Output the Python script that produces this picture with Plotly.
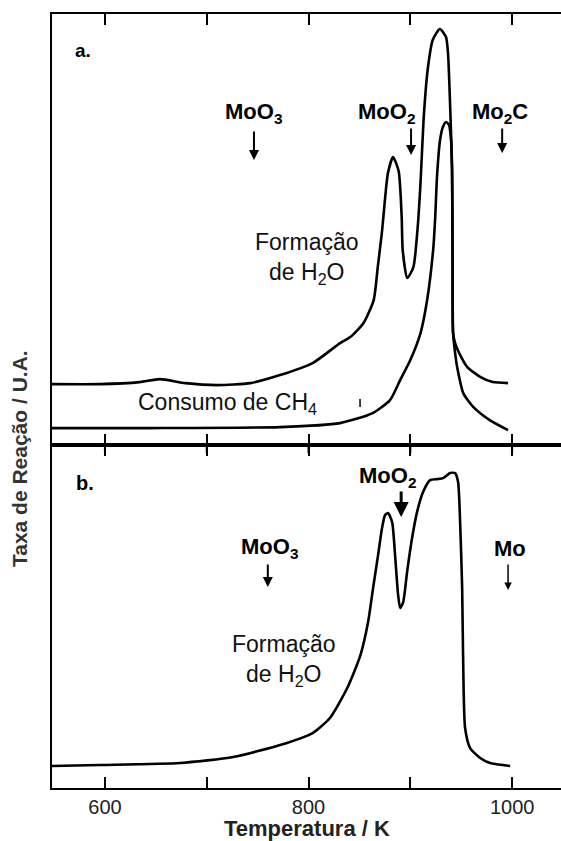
import plotly.graph_objects as go

# ---------------- data ----------------
# Panel a: H2O formation rate (arbitrary units) vs temperature (K)
t_h2o_a = [548.0, 595.0, 634.0, 654.0, 679.0, 710.0, 743.0, 772.0, 804.0, 831.0,
           841.0, 854.0, 864.0, 868.0, 872.0, 873.5, 878.0, 883.0, 888.5, 891.5,
           892.5, 897.0, 903.0, 907.0, 910.0, 913.0, 917.0, 922.0, 929.0, 935.0,
           937.0, 939.0, 941.0, 941.5, 942.0, 944.0, 950.0, 956.0, 969.0, 981.0, 996.0]
r_h2o_a = [61, 61, 63, 66, 62, 60, 62, 70, 82, 102,
           108, 122, 145, 178, 212, 228, 272, 288, 274, 228,
           195, 167, 178, 215, 262, 325, 375, 405, 416, 408,
           392, 342, 275, 185, 112, 102, 88, 78, 68, 63, 62]

# Panel a: CH4 consumption rate
t_ch4_a = [548.0, 644.0, 772.0, 831.0, 863.0, 880.0, 890.0, 900.0, 910.0, 916.5,
           922.4, 924.3, 926.3, 929.2, 932.0, 935.1, 938.0, 940.0, 941.0, 941.5,
           942.0, 944.0, 946.0, 952.0, 962.0, 978.0, 996.0]
r_ch4_a = [17, 17, 18, 22, 32, 45, 65, 85, 112, 145,
           195, 225, 270, 305, 318, 323, 320, 305, 275, 185,
           112, 92, 78, 52, 38, 25, 15]

# Panel b: H2O formation rate
t_h2o_b = [548.0, 595.0, 674.0, 726.0, 772.0, 804.0, 821.0, 838.0, 851.0, 858.5,
           863.4, 868.3, 872.2, 875.2, 878.1, 882.1, 885.0, 888.0, 890.0, 893.0,
           896.8, 901.7, 906.6, 912.5, 919.4, 926.3, 932.2, 939.1, 944.0, 946.9,
           948.9, 950.9, 951.8, 953.8, 958.7, 968.6, 978.4, 998.0]
r_h2o_b = [22, 23, 25, 31, 43, 55, 70, 100, 133, 166,
           200, 233, 260, 273, 275, 266, 233, 193, 180, 186,
           216, 250, 276, 296, 308, 309, 310, 315, 315, 306,
           266, 200, 133, 60, 40, 30, 25, 22]

tick_vals = [600, 700, 800, 900, 1000]
tick_text = ["600", "", "800", "", "1000"]

x_range = [548, 1048]
range_a = [0, 431]
range_b = [0, 343]

FONT = "Arial, Liberation Sans, sans-serif"
LINE = dict(color="black", width=2.6)

fig = go.Figure()
fig.add_trace(go.Scatter(x=t_h2o_a, y=r_h2o_a, mode="lines", line=dict(**LINE, shape="spline", smoothing=0.6),
                         xaxis="x", yaxis="y", name="Formação de H2O (a)"))
fig.add_trace(go.Scatter(x=t_ch4_a, y=r_ch4_a, mode="lines", line=dict(**LINE, shape="spline", smoothing=0.6),
                         xaxis="x", yaxis="y", name="Consumo de CH4"))
fig.add_trace(go.Scatter(x=t_h2o_b, y=r_h2o_b, mode="lines", line=dict(**LINE, shape="spline", smoothing=0.6),
                         xaxis="x2", yaxis="y2", name="Formação de H2O (b)"))

# downward part of the ticks that cross the line between the two panels
xs, ys = [], []
for tv in tick_vals:
    xs += [tv, tv, None]
    ys += [343, 335, None]
fig.add_trace(go.Scatter(x=xs, y=ys, mode="lines", line=dict(color="black", width=2),
                         xaxis="x2", yaxis="y2", hoverinfo="skip", showlegend=False))

axis_x_common = dict(range=x_range, showline=True, linecolor="black", linewidth=2,
                     mirror="ticks", ticks="inside", ticklen=11, tickwidth=2, tickcolor="black",
                     tickmode="array", tickvals=tick_vals,
                     showgrid=False, zeroline=False)
axis_y_common = dict(showline=True, linecolor="black", linewidth=2, showticklabels=False,
                     ticks="", showgrid=False, zeroline=False)

fig.update_layout(
    width=561, height=841,
    margin=dict(l=52, r=0, t=14, b=53),
    plot_bgcolor="white", paper_bgcolor="white",
    showlegend=False,
    xaxis=dict(**axis_x_common, anchor="y", domain=[0, 1], showticklabels=False),
    yaxis=dict(**axis_y_common, anchor="x", domain=[0.443, 1], range=range_a),
    xaxis2=dict(**axis_x_common, anchor="y2", domain=[0, 1], ticktext=tick_text,
                tickfont=dict(family=FONT, size=20, color="#222")),
    yaxis2=dict(**axis_y_common, anchor="x2", domain=[0, 0.443], range=range_b),
)

# small stray mark seen in panel a
shapes = [dict(type="line", xref="x", yref="y", x0=850.6, x1=850.6, y0=38, y1=46,
               line=dict(color="black", width=1.5))]

ann = []

def label(x, y, text, panel, size=22, bold=True, color="black"):
    xr, yr = ("x", "y") if panel == "a" else ("x2", "y2")
    t = "<b>%s</b>" % text if bold else text
    ann.append(dict(x=x, y=y, xref=xr, yref=yr, text=t, showarrow=False,
                    font=dict(family=FONT, size=size, color=color),
                    xanchor="center", yanchor="middle", align="center"))

def arrow(x, y_tail, y_head, panel, width=2):
    xr, yr = ("x", "y") if panel == "a" else ("x2", "y2")
    ann.append(dict(x=x, y=y_head, ax=x, ay=y_tail, xref=xr, yref=yr, axref=xr, ayref=yr,
                    text="", showarrow=True, arrowhead=2, arrowsize=1, arrowwidth=width,
                    arrowcolor="black"))

# panel a
label(578, 395, "a.", "a", size=19)
label(745.5, 332, "MoO<sub>3</sub>", "a")
arrow(746.4, 315, 285, "a")
label(877, 332, "MoO<sub>2</sub>", "a")
arrow(900.7, 318, 290, "a")
label(988, 332, "Mo<sub>2</sub>C", "a")
arrow(990.2, 318, 292, "a")
label(798.5, 186.5, "Formação<br>de H<sub>2</sub>O", "a", size=23, bold=False, color="#111")
label(720, 42, "Consumo de CH<sub>4</sub>", "a", size=23, bold=False, color="#111")

# panel b
label(580, 305, "b.", "b", size=20)
label(762, 240, "MoO<sub>3</sub>", "b")
arrow(760, 225, 201, "b")
label(878, 311, "MoO<sub>2</sub>", "b")
arrow(891, 298, 271, "b", width=3)
label(998, 240, "Mo", "b")
arrow(996, 225, 198, "b", width=1.5)
label(776, 128, "Formação<br>de H<sub>2</sub>O", "b", size=23, bold=False, color="#111")

# axis titles
ann.append(dict(x=0.5, y=-0.0517, xref="paper", yref="paper", text="<b>Temperatura / K</b>",
                showarrow=False, font=dict(family=FONT, size=22, color="#222"),
                xanchor="center", yanchor="middle"))
ann.append(dict(x=-0.0648, y=0.425, xref="paper", yref="paper", text="<b>Taxa de Reação / U.A.</b>",
                showarrow=False, textangle=-90, font=dict(family=FONT, size=21, color="#333"),
                xanchor="center", yanchor="middle"))

fig.update_layout(annotations=ann, shapes=shapes)
fig.write_html("out.html")
